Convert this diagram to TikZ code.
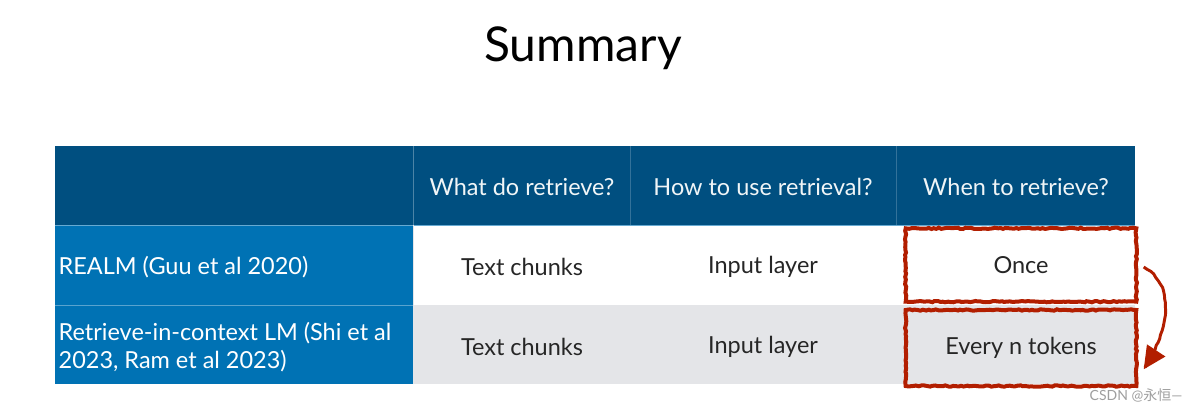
\documentclass[tikz,border=0pt]{standalone}
\usepackage{fontspec}
\setmainfont{Lato}
\newfontfamily\cjkfont{Noto Sans CJK SC}
\usepackage{xcolor}
\usetikzlibrary{arrows.meta,decorations.pathmorphing}

\definecolor{headblue}{RGB}{0,79,128}
\definecolor{sideblue}{RGB}{0,114,180}
\definecolor{rowgrey}{RGB}{228,229,232}
\definecolor{markred}{RGB}{178,30,0}

\tikzset{
  headtext/.style={text=white!94!headblue, font=\fontsize{17.6}{21}\selectfont},
  celltext/.style={text=black!85, font=\fontsize{17.6}{21}\selectfont},
  sidetext/.style={text=white, anchor=west, align=left, font=\fontsize{17.6}{21}\selectfont},
  markbox/.style={draw=markred, line width=3pt, minimum width=173pt, minimum height=55pt,
    inner sep=0pt, decorate, decoration={random steps, segment length=2pt, amplitude=0.5pt}},
}

\begin{document}
\begin{tikzpicture}[x=0.75pt,y=0.75pt,yscale=-1,xscale=1]
        \useasboundingbox (0,0) rectangle (1202,411);
        % title
        \node (title) at (583,48) {\fontsize{36}{40}\selectfont Summary};
        % table background
        \fill[headblue] (55,146) rectangle (1135,225);
        \fill[sideblue] (55,225) rectangle (413,384);
        \fill[white] (413,225) rectangle (1135,305);
        \fill[rowgrey] (413,305) rectangle (1135,384);
        \draw[headblue!70!white, line width=0.6pt] (413,146) -- (413,225);
        \draw[headblue!80!white, line width=0.6pt] (630,146) -- (630,225);
        \draw[headblue!80!white, line width=0.6pt] (896,146) -- (896,225);
        \draw[sideblue!60!white, line width=0.6pt] (55,225) -- (1135,225);
        \draw[sideblue!65!white, line width=0.6pt] (55,305) -- (413,305);
        \draw[rowgrey, line width=0.6pt] (413,225) -- (413,384);
        % header row
        \node[headtext] (hwhat) at (522,187) {What do retrieve?};
        \node[headtext] (hhow) at (763,187) {How to use retrieval?};
        \node[headtext] (hwhen) at (1016,187) {When to retrieve?};
        % first row
        \node[sidetext] (realm) at (54,267) {REALM (Guu et al 2020)};
        \node[celltext] (whatA) at (522,267) {Text chunks};
        \node[celltext] (howA) at (763,267) {Input layer};
        % second row
        \node[sidetext] (ric) at (54,347) {Retrieve-in-context LM (Shi et al\\2023, Ram et al 2023)};
        \node[celltext] (whatB) at (522,347) {Text chunks};
        \node[celltext] (howB) at (763,347) {Input layer};
        % marked cells
        \node[markbox, celltext] (once) at (1021,265) {Once};
        \node[markbox, celltext, minimum height=57pt] (every) at (1021,348) {Every n tokens};
        % yshift goes down here (yscale=-1)
        \draw[markred, line width=2.2pt, -{Triangle[length=17pt,width=16pt]},
          decorate, decoration={random steps, segment length=3pt, amplitude=0.4pt}]
          ([xshift=4pt,yshift=1.5pt]once.east) .. controls +(32,18) and +(26,-40) .. ([xshift=4pt,yshift=16pt]every.east);
        % watermark
        \node[text=black!38, font=\fontsize{10.5}{12}\selectfont] (mark) at (1136,395) {CSDN @{\cjkfont 永恒}—};
\end{tikzpicture}
\end{document}
